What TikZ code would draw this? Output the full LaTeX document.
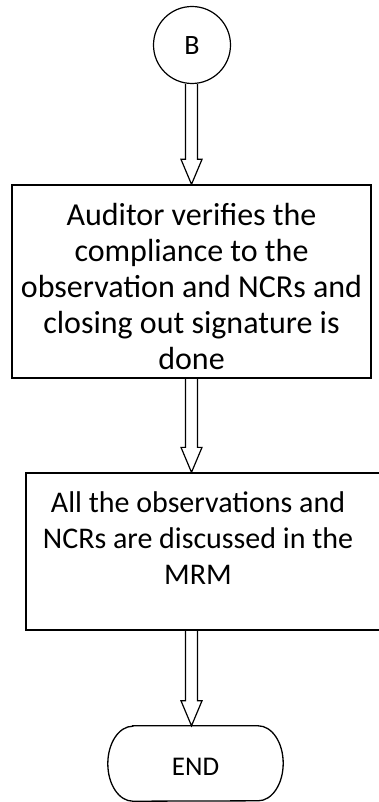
\documentclass[tikz,border=0pt]{standalone}
\usepackage{fontspec}
\setmainfont{Carlito}
\usetikzlibrary{calc}
\newcommand\dblarrow[2]{%
  \draw[flow] let \p1=(ax |- #1.south), \p2=(ax |- #2.north) in
    (\x1-6pt,\y1) -- (\x1-6pt,\y2+25pt) -- (\x1-10.5pt,\y2+25pt) -- (\x2,\y2)
    -- (\x1+10.5pt,\y2+25pt) -- (\x1+6pt,\y2+25pt) -- (\x1+6pt,\y1);}
\begin{document}
\begin{tikzpicture}[x=1pt,y=-1pt,
  box/.style={draw, line width=1.3pt, inner sep=0pt},
  txt/.style={align=center, inner sep=0pt, anchor=base},
  flow/.style={draw, line width=1.2pt, line join=miter}]
\clip (0,0) rectangle (379,802);
\fill[white] (0,0) rectangle (379,802);
\coordinate (ax) at (191.5,0);
% start connector
\node[circle, draw, line width=1.2pt, minimum size=77pt, inner sep=0pt,
      font=\fontsize{28}{32}\selectfont, text height=20pt, text depth=0pt] (b) at (192,45) {B};
% process 1
\node[box, minimum width=359pt, minimum height=193pt] (p1) at (191.5,281.5) {};
\node[txt, font=\fontsize{32}{36}\selectfont] (p1t) at (191.5,369)
  {Auditor verifies the\\compliance to the\\observation and NCRs and\\closing out signature is\\done};
% process 2
\node[box, minimum width=374pt, minimum height=157pt] (p2) at (213,551.5) {};
\node[txt, font=\fontsize{30}{36}\selectfont] (p2t) at (198,584)
  {All the observations and\\NCRs are discussed in the\\MRM};
% terminal
\node[minimum width=175pt, minimum height=75pt, inner sep=0pt,
      font=\fontsize{27}{32}\selectfont, text height=23.5pt, text depth=0pt] (e) at (195.5,763.5) {END};
\draw[box] ($(e.north west)+(25pt,0)$) -- ($(e.north east)+(-25pt,0)$)
  arc[start angle=90, end angle=-90, x radius=25pt, y radius=37.5pt]
  -- ($(e.south west)+(25pt,0)$)
  arc[start angle=270, end angle=90, x radius=25pt, y radius=37.5pt] -- cycle;
% connectors
\dblarrow{b}{p1}
\dblarrow{p1}{p2}
\dblarrow{p2}{e}
\end{tikzpicture}
\end{document}
